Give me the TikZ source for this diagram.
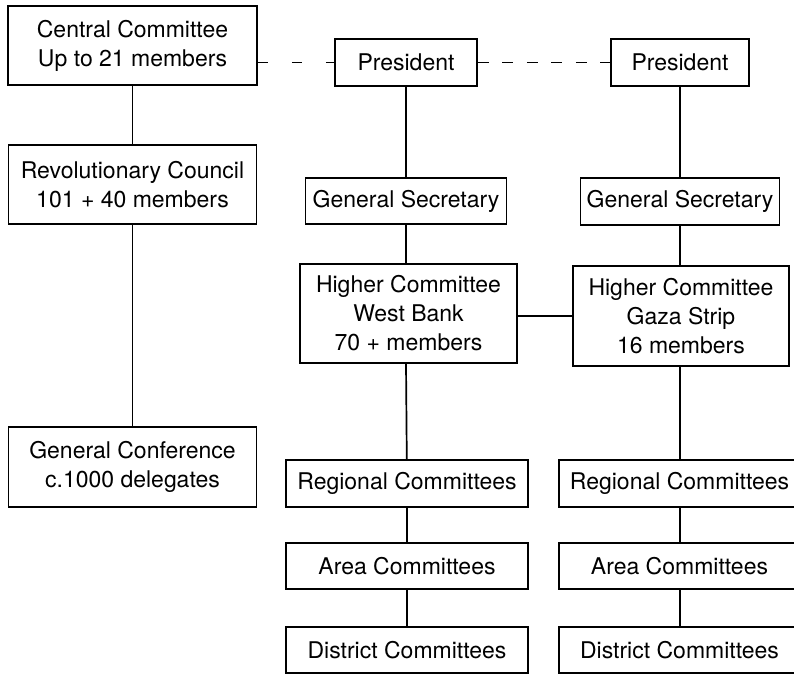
\documentclass[tikz,border=0pt]{standalone}
\usepackage{fontspec}
\setmainfont{TeX Gyre Heros}
\begin{document}
\begin{tikzpicture}[x=1pt,y=-1pt,
  box/.style={draw,line width=1.8pt,inner sep=0pt,align=center,font=\fontsize{23}{29}\selectfont},
  conn/.style={line width=1.7pt},
  dashA/.style={line width=1.8pt,dash pattern=on 10pt off 24pt},
  dashB/.style={line width=1.8pt,dash pattern=on 11pt off 13.5pt}]
\useasboundingbox (0,0) rectangle (794,675);
% left column
\node[box,minimum width=249pt,minimum height=79pt] (cc) at (132.5,45.5) {Central Committee\\Up to 21 members};
\node[box,minimum width=248pt,minimum height=79pt] (rc) at (132.5,184.5) {Revolutionary Council\\101 + 40 members};
\node[box,minimum width=248pt,minimum height=80pt] (gc) at (132.5,467) {General Conference\\c.1000 delegates};
% middle column
\node[box,minimum width=142pt,minimum height=47pt] (p1) at (406,62.5) {President};
\node[box,minimum width=201pt,minimum height=46pt] (gs1) at (406,201) {General Secretary};
\node[box,minimum width=217pt,minimum height=99pt] (hw) at (408.5,313.5) {Higher Committee\\West Bank\\70 + members};
\node[box,minimum width=242pt,minimum height=47pt] (r1) at (407,483.5) {Regional Committees};
\node[box,minimum width=242pt,minimum height=46pt] (a1) at (407,566) {Area Committees};
\node[box,minimum width=242pt,minimum height=46pt] (d1) at (407,650) {District Committees};
% right column
\node[box,minimum width=138pt,minimum height=47pt] (p2) at (680,62.5) {President};
\node[box,minimum width=199pt,minimum height=47pt] (gs2) at (680,201.5) {General Secretary};
\node[box,minimum width=216pt,minimum height=100pt] (hg) at (681,316) {Higher Committee\\Gaza Strip\\16 members};
\node[box,minimum width=241pt,minimum height=47pt] (r2) at (679.5,483.5) {Regional Committees};
\node[box,minimum width=241pt,minimum height=46pt] (a2) at (679.5,566) {Area Committees};
\node[box,minimum width=241pt,minimum height=46pt] (d2) at (679.5,650) {District Committees};
% connectors
\draw[conn] (cc) -- (rc);
\draw[conn] (rc) -- (gc);
\draw[dashA] (cc.east |- p1.west) -- (p1.west);
\draw[dashB] (p1) -- (p2);
\draw[conn] (p1) -- (gs1);
\draw[conn] (gs1) -- (gs1 |- hw.north);
\draw[conn] (hw.south -| gs1) -- (r1);
\draw[conn] (r1) -- (a1);
\draw[conn] (a1) -- (d1);
\draw[conn] (p2) -- (gs2);
\draw[conn] (gs2) -- (gs2 |- hg.north);
\draw[conn] (hg.south -| gs2) -- (gs2 |- r2.north);
\draw[conn] (r2.south -| gs2) -- (gs2 |- a2.north);
\draw[conn] (a2.south -| gs2) -- (gs2 |- d2.north);
\draw[conn] (hw.east |- 0,316) -- (hg.west |- 0,316);
\end{tikzpicture}
\end{document}
